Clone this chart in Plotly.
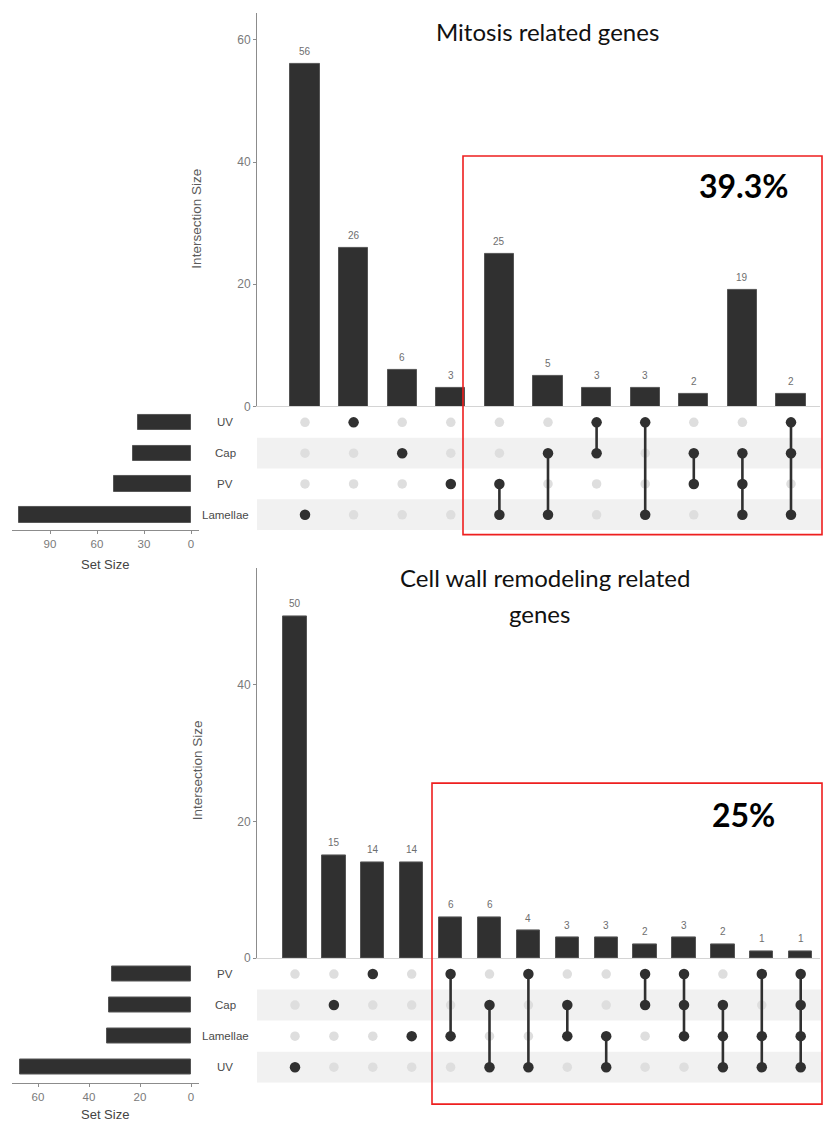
import plotly.graph_objects as go

W, H = 823, 1126

# ---- Mitosis related genes ----
mit_sets = ["UV", "Cap", "PV", "Lamellae"]
mit_set_sizes = [34, 37, 49, 110]
mit_combos = [
    ["Lamellae"], ["UV"], ["Cap"], ["PV"],
    ["PV", "Lamellae"], ["Cap", "Lamellae"], ["UV", "Cap"], ["UV", "Lamellae"],
    ["Cap", "PV"], ["Cap", "PV", "Lamellae"], ["UV", "Cap", "Lamellae"],
]
mit_counts = [56, 26, 6, 3, 25, 5, 3, 3, 2, 19, 2]
mit_bar_ticks = [0, 20, 40, 60]
mit_size_ticks = [0, 30, 60, 90]

# ---- Cell wall remodeling related genes ----
cw_sets = ["PV", "Cap", "Lamellae", "UV"]
cw_set_sizes = [31, 32, 33, 67]
cw_combos = [
    ["UV"], ["Cap"], ["PV"], ["Lamellae"],
    ["PV", "Lamellae"], ["Cap", "UV"], ["PV", "UV"], ["Cap", "Lamellae"],
    ["Lamellae", "UV"], ["PV", "Cap"], ["PV", "Cap", "Lamellae"],
    ["Cap", "Lamellae", "UV"], ["PV", "Lamellae", "UV"],
    ["PV", "Cap", "Lamellae", "UV"],
]
cw_counts = [50, 15, 14, 14, 6, 6, 4, 3, 3, 2, 3, 2, 1, 1]
cw_bar_ticks = [0, 20, 40]
cw_size_ticks = [0, 20, 40, 60]

DARK = "#303030"
EDGE = "#555555"
DOT_OFF = "#dedede"
BAND = "#f1f1f1"
AXIS = "#8c8c8c"
TICKTXT = "#7a7a7a"
SANS = "Liberation Sans, Arial, sans-serif"


def px_x(p):
    return p / W


def px_y(p):
    return 1 - p / H


def ax(n, kind):
    return kind if n == 1 else f"{kind}{n}"


def axkey(n, kind):
    return f"{kind}axis" if n == 1 else f"{kind}axis{n}"


fig = go.Figure()
layout_axes = {}
annotations = []
shapes = []


def paper_text(x, y, text, font, **kw):
    d = dict(x=px_x(x), y=px_y(y), xref="paper", yref="paper", text=text,
             showarrow=False, xanchor="center", yanchor="middle", font=font)
    d.update(kw)
    annotations.append(d)


def add_upset(k, sets, sizes, combos, counts, bar_ticks, size_ticks, geo):
    nb, nm, ns = 3 * k + 1, 3 * k + 2, 3 * k + 3
    ncol = len(counts)
    cols = list(range(ncol))
    xr = [(geo["left"] - geo["col0"]) / geo["step"], (geo["right"] - geo["col0"]) / geo["step"]]
    xdom = [px_x(geo["left"]), px_x(geo["right"])]
    nrow = len(sets)
    row_dom = [px_y(geo["rows_top"] + nrow * geo["row_step"]), px_y(geo["rows_top"])]
    rows = list(range(nrow))

    # intersection bars
    fig.add_trace(go.Bar(
        x=cols, y=counts, width=0.6, xaxis=ax(nb, "x"), yaxis=ax(nb, "y"),
        marker=dict(color=DARK, line=dict(color=EDGE, width=1)),
        showlegend=False, hoverinfo="skip",
    ))
    for c, v in zip(cols, counts):
        annotations.append(dict(
            x=c, y=v, xref=ax(nb, "x"), yref=ax(nb, "y"), text=str(v),
            showarrow=False, xanchor="center", yanchor="bottom", yshift=5,
            font=dict(family=SANS, size=10, color="#6e6e6e"),
        ))

    layout_axes[axkey(nb, "x")] = dict(
        domain=xdom, range=xr, anchor=ax(nb, "y"), showticklabels=False,
        showgrid=False, zeroline=False, showline=True, linecolor="#d4d4d4",
        linewidth=1, ticks="", fixedrange=True,
    )
    layout_axes[axkey(nb, "y")] = dict(
        domain=[px_y(geo["base"]), px_y(geo["bar_top"])], range=[0, geo["ymax"]],
        anchor=ax(nb, "x"), showgrid=False, zeroline=False, showline=True,
        linecolor=AXIS, linewidth=1, ticks="outside", ticklen=3, tickcolor=AXIS,
        tickvals=bar_ticks, tickfont=dict(family=SANS, size=12, color=TICKTXT),
        fixedrange=True,
    )

    # matrix: bands, dots, connectors
    for r in rows:
        if r % 2 == 1:
            shapes.append(dict(
                type="rect", xref=f"{ax(nm, 'x')} domain", yref=ax(nm, "y"),
                x0=0, x1=1.003, y0=r - 0.5, y1=r + 0.5, fillcolor=BAND,
                line=dict(width=0), layer="below",
            ))
    off_x, off_y, on_x, on_y, ln_x, ln_y = [], [], [], [], [], []
    for c, combo in zip(cols, combos):
        members = [sets.index(s) for s in combo]
        for r in rows:
            if r in members:
                on_x.append(c)
                on_y.append(r)
            else:
                off_x.append(c)
                off_y.append(r)
        if len(members) > 1:
            ln_x += [c, c, None]
            ln_y += [min(members), max(members), None]
    fig.add_trace(go.Scatter(
        x=off_x, y=off_y, mode="markers", xaxis=ax(nm, "x"), yaxis=ax(nm, "y"),
        marker=dict(size=9.5, color=DOT_OFF), showlegend=False, hoverinfo="skip",
    ))
    fig.add_trace(go.Scatter(
        x=ln_x, y=ln_y, mode="lines", xaxis=ax(nm, "x"), yaxis=ax(nm, "y"),
        line=dict(color=DARK, width=2.6), showlegend=False, hoverinfo="skip",
    ))
    fig.add_trace(go.Scatter(
        x=on_x, y=on_y, mode="markers", xaxis=ax(nm, "x"), yaxis=ax(nm, "y"),
        marker=dict(size=10.5, color=DARK), showlegend=False, hoverinfo="skip",
    ))
    layout_axes[axkey(nm, "x")] = dict(
        domain=xdom, range=xr, anchor=ax(nm, "y"), visible=False, fixedrange=True,
    )
    layout_axes[axkey(nm, "y")] = dict(
        domain=row_dom, range=[nrow - 0.5, -0.5], anchor=ax(nm, "x"),
        visible=False, fixedrange=True,
    )

    # set size bars
    fig.add_trace(go.Bar(
        x=sizes, y=rows, orientation="h", width=0.5,
        xaxis=ax(ns, "x"), yaxis=ax(ns, "y"),
        marker=dict(color=DARK, line=dict(color=EDGE, width=1)),
        showlegend=False, hoverinfo="skip",
    ))
    zero, scale = geo["size_zero"], geo["size_scale"]
    layout_axes[axkey(ns, "x")] = dict(
        domain=[px_x(geo["size_left"]), px_x(geo["size_right"])],
        range=[(zero - geo["size_left"]) / scale, (zero - geo["size_right"]) / scale],
        anchor=ax(ns, "y"), showgrid=False, zeroline=False, showline=True,
        linecolor=AXIS, linewidth=1, ticks="outside", ticklen=3, tickcolor=AXIS,
        tickvals=size_ticks, tickfont=dict(family=SANS, size=11.5, color=TICKTXT),
        fixedrange=True,
    )
    layout_axes[axkey(ns, "y")] = dict(
        domain=row_dom, range=[nrow - 0.5, -0.5], anchor=ax(ns, "x"),
        visible=False, fixedrange=True,
    )

    # set labels
    for r, s in zip(rows, sets):
        annotations.append(dict(
            x=px_x(225), y=r, xref="paper", yref=ax(nm, "y"), text=s,
            showarrow=False, xanchor="center", yanchor="middle",
            font=dict(family=SANS, size=11.5, color="#4a4a4a"),
        ))
    paper_text(197, geo["ytitle"], "Intersection Size",
               dict(family=SANS, size=13.5, color="#5a5a5a"), textangle=-90)
    paper_text(105, geo["size_title"], "Set Size",
               dict(family=SANS, size=13, color="#444444"))

    # highlight box and share label
    bx = geo["box"]
    shapes.append(dict(
        type="rect", xref="paper", yref="paper",
        x0=px_x(bx[0]), x1=px_x(bx[2]), y0=px_y(bx[3]), y1=px_y(bx[1]),
        line=dict(color="#ee1f1f", width=1.6), fillcolor="rgba(0,0,0,0)",
    ))
    paper_text(geo["pct_pos"][0], geo["pct_pos"][1], f"<b>{geo['pct']}</b>",
               dict(family="Lato, sans-serif", size=32, color="#000000"))
    for txt, (tx, ty) in geo["title"]:
        paper_text(tx, ty, txt, dict(family="Lato, sans-serif", size=24, color="#111111"))


add_upset(0, mit_sets, mit_set_sizes, mit_combos, mit_counts, mit_bar_ticks, mit_size_ticks, dict(
    left=257, right=820, col0=305, step=48.6, bar_top=13, base=409, ymax=64.4,
    rows_top=409.5, row_step=31, size_zero=191, size_scale=47 / 30,
    size_left=12, size_right=199, ytitle=220, size_title=568,
    box=(463, 157, 822, 538), pct="39.3%", pct_pos=(744, 187),
    title=[("Mitosis related genes", (547, 32))],
))
add_upset(1, cw_sets, cw_set_sizes, cw_combos, cw_counts, cw_bar_ticks, cw_size_ticks, dict(
    left=257, right=820, col0=295, step=38.9, bar_top=572, base=964, ymax=57,
    rows_top=964.5, row_step=31.25, size_zero=191, size_scale=51 / 20,
    size_left=12, size_right=199, ytitle=775, size_title=1121,
    box=(432, 788, 822, 1111), pct="25%", pct_pos=(743, 820),
    title=[("Cell wall remodeling related", (545, 581)), ("genes", (539, 617))],
))

fig.update_layout(
    width=W, height=H, margin=dict(l=0, r=0, t=0, b=0),
    paper_bgcolor="white", plot_bgcolor="rgba(0,0,0,0)",
    annotations=annotations, shapes=shapes, bargap=0, showlegend=False,
    **layout_axes,
)

fig.write_html("out.html", config={"displayModeBar": False})
